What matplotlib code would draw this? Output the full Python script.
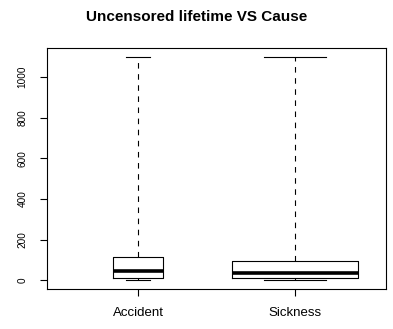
import matplotlib.pyplot as plt

# Statystyki pudełek (min, Q1, mediana, Q3, max) dla każdej przyczyny
causes = ['Accident', 'Sickness']
whisker_low = [1, 1]
q1 = [10, 10]
medians = [45, 36]
q3 = [116, 97]
whisker_high = [1100, 1100]
box_widths = [0.316, 0.80]
y_ticks = [0, 200, 400, 600, 800, 1000]

plt.rcParams['font.family'] = ['Liberation Sans', 'DejaVu Sans']

stats = []
for i, name in enumerate(causes):
    stats.append({
        'label': name,
        'whislo': whisker_low[i],
        'q1': q1[i],
        'med': medians[i],
        'q3': q3[i],
        'whishi': whisker_high[i],
        'fliers': [],
    })

fig = plt.figure(figsize=(3.93, 3.29), dpi=100)
ax = fig.add_axes([47 / 393, 39.7 / 329, 339 / 393, 241.6 / 329])

lw = 0.8
ax.bxp(stats, positions=[1, 2], widths=box_widths,
       boxprops=dict(color='black', linewidth=lw),
       whiskerprops=dict(color='black', linewidth=lw, linestyle=(0, (5, 5))),
       capprops=dict(color='black', linewidth=lw),
       medianprops=dict(color='black', linewidth=2.6, solid_capstyle='butt'),
       capwidths=[w / 2 for w in box_widths])

# zakresy osi jak w R: 4% marginesu z każdej strony
xlo, xhi = 0.5, 2.5
xpad = 0.04 * (xhi - xlo)
ax.set_xlim(xlo - xpad, xhi + xpad)
lo, hi = 0, 1100
pad = 0.04 * (hi - lo)
ax.set_ylim(lo - pad, hi + pad)

ax.set_yticks(y_ticks)
ax.set_yticklabels([str(t) for t in y_ticks], rotation=90, va='center')
ax.set_xticks([1, 2])
ax.set_xticklabels(causes)
ax.tick_params(axis='both', length=5, width=lw, direction='out')
ax.tick_params(axis='x', labelsize=9.5, pad=8)
ax.tick_params(axis='y', labelsize=7.2, pad=9)
for s in ax.spines.values():
    s.set_linewidth(lw)

fig.suptitle('Uncensored lifetime VS Cause', fontsize=11, fontweight='bold',
             y=1 - 17 / 329, va='center')

plt.savefig('out.png', dpi=100)
